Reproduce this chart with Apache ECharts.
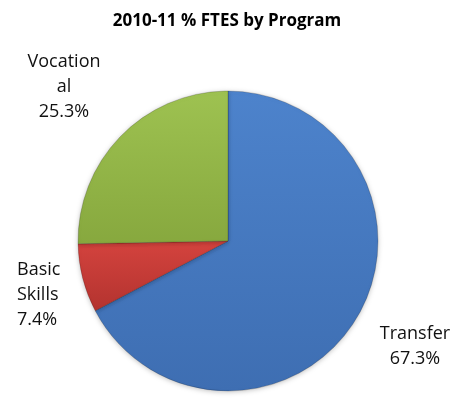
<!DOCTYPE html>
<html><head><meta charset="utf-8">
<script src="https://cdn.jsdelivr.net/npm/echarts@6/dist/echarts.min.js"></script>
<style>html,body{margin:0;padding:0;background:#fff}#c{width:454px;height:402px}</style>
</head><body><div id="c"></div>
<script>
const categories = ['Transfer', 'Basic Skills', 'Vocational'];
const values = [67.3, 7.4, 25.3];
const colors = ['#4d83cc', '#d4433e', '#9ec251'];
const darks = ['#3e6eb2', '#b3332f', '#87a83e'];
const labelPos = [[415, 346], [17, 295], [64, 87]];
const labelWidths = [90, 55, 80];
const labelAlign = ['center', 'left', 'center'];

const chart = echarts.init(document.getElementById('c'));
chart.setOption({
  animation: false,
  title: {
    text: '2010-11 % FTES by Program', left: 'center', top: 8,
    textStyle: { fontFamily: 'Open Sans', fontSize: 17, fontWeight: 'bold', color: '#000' }
  },
  series: [{
    type: 'pie',
    center: [228, 241],
    radius: 150,
    startAngle: 90,
    clockwise: true,
    data: categories.map((n, i) => ({
      name: n, value: values[i],
      itemStyle: {
        color: {
          type: 'linear', x: 0, y: 0, x2: 0, y2: 1,
          colorStops: [{ offset: 0, color: colors[i] }, { offset: 1, color: darks[i] }]
        }
      },
      label: { width: labelWidths[i], overflow: i === 2 ? 'breakAll' : 'break', align: labelAlign[i] }
    })),
    itemStyle: { borderColor: 'rgba(0,0,0,0.18)', borderWidth: 1, shadowBlur: 5, shadowColor: 'rgba(0,0,0,0.25)', shadowOffsetY: 1 },
    label: {
      show: true, position: 'outside',
      fontFamily: 'Open Sans', fontSize: 18, color: '#111', lineHeight: 25,
      formatter: p => p.name + '\n' + p.value.toFixed(1) + '%'
    },
    labelLine: { show: false },
    labelLayout: p => ({
      x: labelPos[p.dataIndex][0], y: labelPos[p.dataIndex][1],
      align: labelAlign[p.dataIndex], verticalAlign: 'middle'
    })
  }]
});
</script></body></html>
